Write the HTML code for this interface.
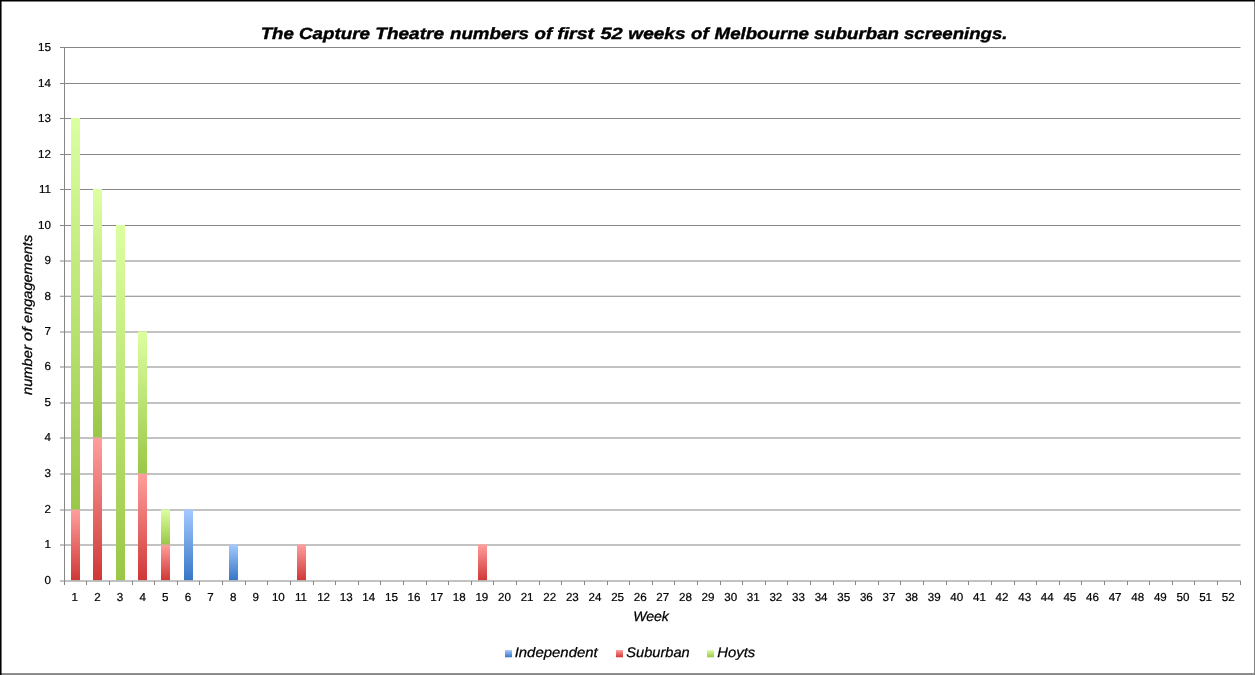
<!DOCTYPE html><html><head><meta charset="utf-8"><title>Chart</title><style>
html,body{margin:0;padding:0;background:#fff;overflow:hidden}svg{display:block;will-change:transform}text{text-rendering:geometricPrecision;font-family:"Liberation Sans",sans-serif;fill:#000}
</style></head><body>
<svg width="1255" height="675" viewBox="0 0 1255 675">
<defs>
<linearGradient id="gB" x1="0" y1="0" x2="0" y2="1"><stop offset="0" stop-color="#a4c9ff"/><stop offset="1" stop-color="#3676c6"/></linearGradient>
<linearGradient id="gR" x1="0" y1="0" x2="0" y2="1"><stop offset="0" stop-color="#ff9f9d"/><stop offset="1" stop-color="#cf3836"/></linearGradient>
<linearGradient id="gG" x1="0" y1="0" x2="0" y2="1"><stop offset="0" stop-color="#dcffa1"/><stop offset="1" stop-color="#9ac746"/></linearGradient>
</defs>
<rect x="0" y="0" width="1255" height="675" fill="#fff"/>
<line x1="60" y1="545.00" x2="1240.5" y2="545.00" stroke="#868686" stroke-width="1"/>
<line x1="60" y1="510.00" x2="1240.5" y2="510.00" stroke="#868686" stroke-width="1"/>
<line x1="60" y1="474.00" x2="1240.5" y2="474.00" stroke="#868686" stroke-width="1"/>
<line x1="60" y1="438.00" x2="1240.5" y2="438.00" stroke="#868686" stroke-width="1"/>
<line x1="60" y1="403.00" x2="1240.5" y2="403.00" stroke="#868686" stroke-width="1"/>
<line x1="60" y1="367.00" x2="1240.5" y2="367.00" stroke="#868686" stroke-width="1"/>
<line x1="60" y1="332.00" x2="1240.5" y2="332.00" stroke="#868686" stroke-width="1"/>
<line x1="60" y1="296.25" x2="1240.5" y2="296.25" stroke="#868686" stroke-width="1"/>
<line x1="60" y1="261.00" x2="1240.5" y2="261.00" stroke="#868686" stroke-width="1"/>
<line x1="60" y1="225.50" x2="1240.5" y2="225.50" stroke="#868686" stroke-width="1"/>
<line x1="60" y1="189.50" x2="1240.5" y2="189.50" stroke="#868686" stroke-width="1"/>
<line x1="60" y1="154.50" x2="1240.5" y2="154.50" stroke="#868686" stroke-width="1"/>
<line x1="60" y1="118.50" x2="1240.5" y2="118.50" stroke="#868686" stroke-width="1"/>
<line x1="60" y1="83.50" x2="1240.5" y2="83.50" stroke="#868686" stroke-width="1"/>
<line x1="60" y1="47.50" x2="1240.5" y2="47.50" stroke="#868686" stroke-width="1"/>
<rect x="71" y="509.50" width="9" height="70.70" fill="url(#gR)"/>
<rect x="71" y="118.00" width="9" height="391.50" fill="url(#gG)"/>
<rect x="93" y="437.50" width="9" height="142.70" fill="url(#gR)"/>
<rect x="93" y="189.00" width="9" height="248.50" fill="url(#gG)"/>
<rect x="116" y="225.00" width="9" height="355.20" fill="url(#gG)"/>
<rect x="138" y="473.50" width="9" height="106.70" fill="url(#gR)"/>
<rect x="138" y="331.50" width="9" height="142.00" fill="url(#gG)"/>
<rect x="161" y="544.50" width="9" height="35.70" fill="url(#gR)"/>
<rect x="161" y="509.50" width="9" height="35.00" fill="url(#gG)"/>
<rect x="184" y="509.50" width="9" height="70.70" fill="url(#gB)"/>
<rect x="229" y="544.50" width="9" height="35.70" fill="url(#gB)"/>
<rect x="297" y="544.50" width="9" height="35.70" fill="url(#gR)"/>
<rect x="478" y="544.50" width="9" height="35.70" fill="url(#gR)"/>
<line x1="64.5" y1="47.0" x2="64.5" y2="585" stroke="#868686" stroke-width="1"/>
<line x1="60" y1="581.0" x2="1241.0" y2="581.0" stroke="#868686" stroke-width="1"/>
<line x1="86.50" y1="581.0" x2="86.50" y2="585" stroke="#868686" stroke-width="1"/>
<line x1="109.50" y1="581.0" x2="109.50" y2="585" stroke="#868686" stroke-width="1"/>
<line x1="132.50" y1="581.0" x2="132.50" y2="585" stroke="#868686" stroke-width="1"/>
<line x1="154.50" y1="581.0" x2="154.50" y2="585" stroke="#868686" stroke-width="1"/>
<line x1="177.50" y1="581.0" x2="177.50" y2="585" stroke="#868686" stroke-width="1"/>
<line x1="199.50" y1="581.0" x2="199.50" y2="585" stroke="#868686" stroke-width="1"/>
<line x1="222.50" y1="581.0" x2="222.50" y2="585" stroke="#868686" stroke-width="1"/>
<line x1="245.50" y1="581.0" x2="245.50" y2="585" stroke="#868686" stroke-width="1"/>
<line x1="267.50" y1="581.0" x2="267.50" y2="585" stroke="#868686" stroke-width="1"/>
<line x1="290.50" y1="581.0" x2="290.50" y2="585" stroke="#868686" stroke-width="1"/>
<line x1="313.50" y1="581.0" x2="313.50" y2="585" stroke="#868686" stroke-width="1"/>
<line x1="335.50" y1="581.0" x2="335.50" y2="585" stroke="#868686" stroke-width="1"/>
<line x1="358.50" y1="581.0" x2="358.50" y2="585" stroke="#868686" stroke-width="1"/>
<line x1="380.50" y1="581.0" x2="380.50" y2="585" stroke="#868686" stroke-width="1"/>
<line x1="403.50" y1="581.0" x2="403.50" y2="585" stroke="#868686" stroke-width="1"/>
<line x1="426.50" y1="581.0" x2="426.50" y2="585" stroke="#868686" stroke-width="1"/>
<line x1="448.50" y1="581.0" x2="448.50" y2="585" stroke="#868686" stroke-width="1"/>
<line x1="471.50" y1="581.0" x2="471.50" y2="585" stroke="#868686" stroke-width="1"/>
<line x1="493.50" y1="581.0" x2="493.50" y2="585" stroke="#868686" stroke-width="1"/>
<line x1="516.50" y1="581.0" x2="516.50" y2="585" stroke="#868686" stroke-width="1"/>
<line x1="539.50" y1="581.0" x2="539.50" y2="585" stroke="#868686" stroke-width="1"/>
<line x1="561.50" y1="581.0" x2="561.50" y2="585" stroke="#868686" stroke-width="1"/>
<line x1="584.50" y1="581.0" x2="584.50" y2="585" stroke="#868686" stroke-width="1"/>
<line x1="607.50" y1="581.0" x2="607.50" y2="585" stroke="#868686" stroke-width="1"/>
<line x1="629.50" y1="581.0" x2="629.50" y2="585" stroke="#868686" stroke-width="1"/>
<line x1="652.50" y1="581.0" x2="652.50" y2="585" stroke="#868686" stroke-width="1"/>
<line x1="674.50" y1="581.0" x2="674.50" y2="585" stroke="#868686" stroke-width="1"/>
<line x1="697.50" y1="581.0" x2="697.50" y2="585" stroke="#868686" stroke-width="1"/>
<line x1="720.50" y1="581.0" x2="720.50" y2="585" stroke="#868686" stroke-width="1"/>
<line x1="742.50" y1="581.0" x2="742.50" y2="585" stroke="#868686" stroke-width="1"/>
<line x1="765.50" y1="581.0" x2="765.50" y2="585" stroke="#868686" stroke-width="1"/>
<line x1="787.50" y1="581.0" x2="787.50" y2="585" stroke="#868686" stroke-width="1"/>
<line x1="810.50" y1="581.0" x2="810.50" y2="585" stroke="#868686" stroke-width="1"/>
<line x1="833.50" y1="581.0" x2="833.50" y2="585" stroke="#868686" stroke-width="1"/>
<line x1="855.50" y1="581.0" x2="855.50" y2="585" stroke="#868686" stroke-width="1"/>
<line x1="878.50" y1="581.0" x2="878.50" y2="585" stroke="#868686" stroke-width="1"/>
<line x1="900.50" y1="581.0" x2="900.50" y2="585" stroke="#868686" stroke-width="1"/>
<line x1="923.50" y1="581.0" x2="923.50" y2="585" stroke="#868686" stroke-width="1"/>
<line x1="946.50" y1="581.0" x2="946.50" y2="585" stroke="#868686" stroke-width="1"/>
<line x1="968.50" y1="581.0" x2="968.50" y2="585" stroke="#868686" stroke-width="1"/>
<line x1="991.50" y1="581.0" x2="991.50" y2="585" stroke="#868686" stroke-width="1"/>
<line x1="1014.50" y1="581.0" x2="1014.50" y2="585" stroke="#868686" stroke-width="1"/>
<line x1="1036.50" y1="581.0" x2="1036.50" y2="585" stroke="#868686" stroke-width="1"/>
<line x1="1059.50" y1="581.0" x2="1059.50" y2="585" stroke="#868686" stroke-width="1"/>
<line x1="1081.50" y1="581.0" x2="1081.50" y2="585" stroke="#868686" stroke-width="1"/>
<line x1="1104.50" y1="581.0" x2="1104.50" y2="585" stroke="#868686" stroke-width="1"/>
<line x1="1127.50" y1="581.0" x2="1127.50" y2="585" stroke="#868686" stroke-width="1"/>
<line x1="1149.50" y1="581.0" x2="1149.50" y2="585" stroke="#868686" stroke-width="1"/>
<line x1="1172.50" y1="581.0" x2="1172.50" y2="585" stroke="#868686" stroke-width="1"/>
<line x1="1194.50" y1="581.0" x2="1194.50" y2="585" stroke="#868686" stroke-width="1"/>
<line x1="1217.50" y1="581.0" x2="1217.50" y2="585" stroke="#868686" stroke-width="1"/>
<line x1="1240.50" y1="581.0" x2="1240.50" y2="585" stroke="#868686" stroke-width="1"/>
<g font-size="11.6" stroke="#000" stroke-width="0.22">
<text x="51.0" y="584" text-anchor="end">0</text>
<text x="51.0" y="548" text-anchor="end">1</text>
<text x="51.0" y="513" text-anchor="end">2</text>
<text x="51.0" y="477" text-anchor="end">3</text>
<text x="51.0" y="441" text-anchor="end">4</text>
<text x="51.0" y="406" text-anchor="end">5</text>
<text x="51.0" y="370" text-anchor="end">6</text>
<text x="51.0" y="335" text-anchor="end">7</text>
<text x="51.0" y="300" text-anchor="end">8</text>
<text x="51.0" y="264" text-anchor="end">9</text>
<text x="51.0" y="229" text-anchor="end">10</text>
<text x="51.0" y="193" text-anchor="end">11</text>
<text x="51.0" y="158" text-anchor="end">12</text>
<text x="51.0" y="122" text-anchor="end">13</text>
<text x="51.0" y="87" text-anchor="end">14</text>
<text x="51.0" y="51" text-anchor="end">15</text>
<text x="74.81" y="600.75" text-anchor="middle">1</text>
<text x="97.42" y="600.75" text-anchor="middle">2</text>
<text x="120.04" y="600.75" text-anchor="middle">3</text>
<text x="142.65" y="600.75" text-anchor="middle">4</text>
<text x="165.27" y="600.75" text-anchor="middle">5</text>
<text x="187.88" y="600.75" text-anchor="middle">6</text>
<text x="210.50" y="600.75" text-anchor="middle">7</text>
<text x="233.12" y="600.75" text-anchor="middle">8</text>
<text x="255.73" y="600.75" text-anchor="middle">9</text>
<text x="278.35" y="600.75" text-anchor="middle">10</text>
<text x="300.96" y="600.75" text-anchor="middle">11</text>
<text x="323.58" y="600.75" text-anchor="middle">12</text>
<text x="346.19" y="600.75" text-anchor="middle">13</text>
<text x="368.81" y="600.75" text-anchor="middle">14</text>
<text x="391.42" y="600.75" text-anchor="middle">15</text>
<text x="414.04" y="600.75" text-anchor="middle">16</text>
<text x="436.65" y="600.75" text-anchor="middle">17</text>
<text x="459.27" y="600.75" text-anchor="middle">18</text>
<text x="481.88" y="600.75" text-anchor="middle">19</text>
<text x="504.50" y="600.75" text-anchor="middle">20</text>
<text x="527.12" y="600.75" text-anchor="middle">21</text>
<text x="549.73" y="600.75" text-anchor="middle">22</text>
<text x="572.35" y="600.75" text-anchor="middle">23</text>
<text x="594.96" y="600.75" text-anchor="middle">24</text>
<text x="617.58" y="600.75" text-anchor="middle">25</text>
<text x="640.19" y="600.75" text-anchor="middle">26</text>
<text x="662.81" y="600.75" text-anchor="middle">27</text>
<text x="685.42" y="600.75" text-anchor="middle">28</text>
<text x="708.04" y="600.75" text-anchor="middle">29</text>
<text x="730.65" y="600.75" text-anchor="middle">30</text>
<text x="753.27" y="600.75" text-anchor="middle">31</text>
<text x="775.88" y="600.75" text-anchor="middle">32</text>
<text x="798.50" y="600.75" text-anchor="middle">33</text>
<text x="821.12" y="600.75" text-anchor="middle">34</text>
<text x="843.73" y="600.75" text-anchor="middle">35</text>
<text x="866.35" y="600.75" text-anchor="middle">36</text>
<text x="888.96" y="600.75" text-anchor="middle">37</text>
<text x="911.58" y="600.75" text-anchor="middle">38</text>
<text x="934.19" y="600.75" text-anchor="middle">39</text>
<text x="956.81" y="600.75" text-anchor="middle">40</text>
<text x="979.42" y="600.75" text-anchor="middle">41</text>
<text x="1002.04" y="600.75" text-anchor="middle">42</text>
<text x="1024.65" y="600.75" text-anchor="middle">43</text>
<text x="1047.27" y="600.75" text-anchor="middle">44</text>
<text x="1069.88" y="600.75" text-anchor="middle">45</text>
<text x="1092.50" y="600.75" text-anchor="middle">46</text>
<text x="1115.12" y="600.75" text-anchor="middle">47</text>
<text x="1137.73" y="600.75" text-anchor="middle">48</text>
<text x="1160.35" y="600.75" text-anchor="middle">49</text>
<text x="1182.96" y="600.75" text-anchor="middle">50</text>
<text x="1205.58" y="600.75" text-anchor="middle">51</text>
<text x="1228.19" y="600.75" text-anchor="middle">52</text>
</g>
<g transform="translate(0,0)">
<text x="260.68" y="39" font-size="16.3" font-weight="bold" font-style="italic" stroke="#000" stroke-width="0.4" textLength="33.1" lengthAdjust="spacingAndGlyphs">The</text>
<text x="299.08" y="39" font-size="16.3" font-weight="bold" font-style="italic" stroke="#000" stroke-width="0.4" textLength="70.88" lengthAdjust="spacingAndGlyphs">Capture</text>
<text x="375.39" y="39" font-size="16.3" font-weight="bold" font-style="italic" stroke="#000" stroke-width="0.4" textLength="68.59" lengthAdjust="spacingAndGlyphs">Theatre</text>
<text x="449.96" y="39" font-size="16.3" font-weight="bold" font-style="italic" stroke="#000" stroke-width="0.4" textLength="79.05" lengthAdjust="spacingAndGlyphs">numbers</text>
<text x="534.54" y="39" font-size="16.3" font-weight="bold" font-style="italic" stroke="#000" stroke-width="0.4" textLength="17.6" lengthAdjust="spacingAndGlyphs">of</text>
<text x="557.19" y="39" font-size="16.3" font-weight="bold" font-style="italic" stroke="#000" stroke-width="0.4" textLength="36.84" lengthAdjust="spacingAndGlyphs">first</text>
<text x="600.41" y="39" font-size="16.3" font-weight="bold" font-style="italic" stroke="#000" stroke-width="0.4" textLength="22.32" lengthAdjust="spacingAndGlyphs">52</text>
<text x="628.39" y="39" font-size="16.3" font-weight="bold" font-style="italic" stroke="#000" stroke-width="0.4" textLength="57.15" lengthAdjust="spacingAndGlyphs">weeks</text>
<text x="691.09" y="39" font-size="16.3" font-weight="bold" font-style="italic" stroke="#000" stroke-width="0.4" textLength="17.67" lengthAdjust="spacingAndGlyphs">of</text>
<text x="714.58" y="39" font-size="16.3" font-weight="bold" font-style="italic" stroke="#000" stroke-width="0.4" textLength="94.45" lengthAdjust="spacingAndGlyphs">Melbourne</text>
<text x="813.94" y="39" font-size="16.3" font-weight="bold" font-style="italic" stroke="#000" stroke-width="0.4" textLength="84.97" lengthAdjust="spacingAndGlyphs">suburban</text>
<text x="903.94" y="39" font-size="16.3" font-weight="bold" font-style="italic" stroke="#000" stroke-width="0.4" textLength="103.56" lengthAdjust="spacingAndGlyphs">screenings.</text>
</g>
<text x="633.19" y="621.0" font-size="13.8" font-style="italic" stroke="#000" stroke-width="0.25" textLength="35.7" lengthAdjust="spacingAndGlyphs">Week</text>
<g transform="translate(31.5,494.7) rotate(-90)">
<text x="99.73" y="0" font-size="13.8" font-style="italic" stroke="#000" stroke-width="0.25" textLength="49.75" lengthAdjust="spacingAndGlyphs">number</text>
<text x="153.5" y="0" font-size="13.8" font-style="italic" stroke="#000" stroke-width="0.25" textLength="13.88" lengthAdjust="spacingAndGlyphs">of</text>
<text x="171.79" y="0" font-size="13.8" font-style="italic" stroke="#000" stroke-width="0.25" textLength="88.1" lengthAdjust="spacingAndGlyphs">engagements</text>
</g>
<rect x="505" y="650.1" width="7" height="7.2" fill="url(#gB)"/>
<text x="514.68" y="656.8" font-size="13.8" font-style="italic" stroke="#000" stroke-width="0.25" textLength="83.04" lengthAdjust="spacingAndGlyphs">Independent</text>
<rect x="616" y="650.1" width="7" height="7.2" fill="url(#gR)"/>
<text x="626.3" y="656.8" font-size="13.8" font-style="italic" stroke="#000" stroke-width="0.25" textLength="63.38" lengthAdjust="spacingAndGlyphs">Suburban</text>
<rect x="707" y="650.1" width="7" height="7.2" fill="url(#gG)"/>
<text x="717.24" y="656.8" font-size="13.8" font-style="italic" stroke="#000" stroke-width="0.25" textLength="37.97" lengthAdjust="spacingAndGlyphs">Hoyts</text>
<rect x="0" y="673.1" width="1255" height="2" fill="#868686"/>
<rect x="1254" y="0" width="1" height="675" fill="#808080"/>
<rect x="0" y="0" width="1255" height="1.5" fill="#000"/>
<rect x="0" y="0" width="1.55" height="675" fill="#000"/>
</svg></body></html>
